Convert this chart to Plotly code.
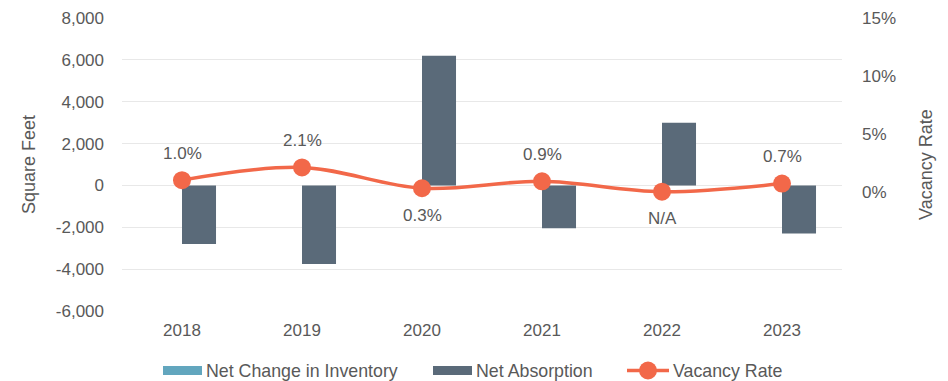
import plotly.graph_objects as go

years = ["2018", "2019", "2020", "2021", "2022", "2023"]
net_change_inventory = [0, 0, 0, 0, 0, 0]
net_absorption = [-2800, -3750, 6200, -2050, 3000, -2300]
vacancy_rate = [1.0, 2.1, 0.3, 0.9, 0.0, 0.7]
vacancy_labels = ["1.0%", "2.1%", "0.3%", "0.9%", "N/A", "0.7%"]
label_above = [True, True, False, True, False, True]

left_ticks = [-6000, -4000, -2000, 0, 2000, 4000, 6000, 8000]
left_tick_text = ["-6,000", "-4,000", "-2,000", "0", "2,000", "4,000", "6,000", "8,000"]
right_ticks = [0, 5, 10, 15]
right_tick_text = ["0%", "5%", "10%", "15%"]

FONT = "Liberation Sans, Arial, sans-serif"
GREY = "#595959"
C_INV = "#62A6BE"
C_ABS = "#5A6A79"
C_VAC = "#F26849"
TICK_SIZE = 17
TITLE_SIZE = 18
LEGEND_SIZE = 17.8

# plot-area geometry in pixels (used for the hand-built legend row)
PL, PW, PT, PH = 122, 720, 18, 293


def px_x(x):
    return (x - PL) / PW


def px_y(y):
    return 1 - (y - PT) / PH


fig = go.Figure()
fig.add_trace(go.Bar(
    x=years, y=net_change_inventory, name="Net Change in Inventory",
    marker_color=C_INV, marker_line_width=0, showlegend=False,
))
fig.add_trace(go.Bar(
    x=years, y=net_absorption, name="Net Absorption",
    marker_color=C_ABS, marker_line_width=0, showlegend=False,
))
fig.add_trace(go.Scatter(
    x=years, y=vacancy_rate, name="Vacancy Rate", yaxis="y2",
    mode="lines+markers",
    line=dict(color=C_VAC, width=3.5, shape="spline", smoothing=1),
    marker=dict(color=C_VAC, size=18),
    cliponaxis=False, showlegend=False,
))

# value labels on the vacancy points (category index on the x axis)
for i, (v, txt, above) in enumerate(zip(vacancy_rate, vacancy_labels, label_above)):
    fig.add_annotation(
        x=i, xref="x", y=v, yref="y2", text=txt, showarrow=False,
        yshift=27 if above else -27,
        font=dict(family=FONT, size=TICK_SIZE, color=GREY),
    )

# legend row drawn beneath the plot
LEG_Y = 370.5
legend_items = [
    ("Net Change in Inventory", "bar", C_INV, 163, 202),
    ("Net Absorption", "bar", C_ABS, 433, 472),
    ("Vacancy Rate", "line", C_VAC, 627, 669),
]
for label, kind, color, x0, x1 in legend_items:
    if kind == "bar":
        fig.add_shape(type="rect", xref="paper", yref="paper",
                      x0=px_x(x0), x1=px_x(x1),
                      y0=px_y(LEG_Y + 4.5), y1=px_y(LEG_Y - 4.5),
                      fillcolor=color, line_width=0)
    else:
        fig.add_shape(type="line", xref="paper", yref="paper",
                      x0=px_x(x0), x1=px_x(x1),
                      y0=px_y(LEG_Y), y1=px_y(LEG_Y),
                      line=dict(color=color, width=3.5))
        cx = (x0 + x1) / 2
        fig.add_shape(type="circle", xref="paper", yref="paper",
                      x0=px_x(cx - 9), x1=px_x(cx + 9),
                      y0=px_y(LEG_Y + 9), y1=px_y(LEG_Y - 9),
                      fillcolor=color, line_width=0)
    fig.add_annotation(
        xref="paper", yref="paper", x=px_x(x1 + 2), y=px_y(LEG_Y),
        xanchor="left", yanchor="middle", text=label, showarrow=False,
        font=dict(family=FONT, size=LEGEND_SIZE, color=GREY),
    )

fig.update_layout(
    width=948, height=381,
    margin=dict(l=PL, r=948 - PL - PW, t=PT, b=381 - PT - PH, autoexpand=False),
    paper_bgcolor="white", plot_bgcolor="white",
    font=dict(family=FONT, size=TICK_SIZE, color=GREY),
    barmode="group", bargap=0.433, bargroupgap=0,
    showlegend=False,
    xaxis=dict(type="category", range=[-0.5, 5.5],
               showgrid=False, zeroline=False, showline=False,
               ticks="", ticklabelstandoff=7,
               tickfont=dict(size=TICK_SIZE, color=GREY)),
    yaxis=dict(range=[-6000, 8000], tickvals=left_ticks, ticktext=left_tick_text,
               showgrid=True, gridcolor="#E8E8E8",
               gridwidth=1, zeroline=False, showline=False,
               ticklabelstandoff=17,
               title=dict(text="Square Feet", standoff=15,
                          font=dict(size=TITLE_SIZE, color=GREY)),
               tickfont=dict(size=TICK_SIZE, color=GREY)),
    yaxis2=dict(overlaying="y", side="right", range=[-10.3, 15.0],
                tickvals=right_ticks, ticktext=right_tick_text, showgrid=False,
                zeroline=False, showline=False, ticklabelstandoff=19,
                title=dict(text="Vacancy Rate", standoff=24,
                           font=dict(size=TITLE_SIZE, color=GREY)),
                tickfont=dict(size=TICK_SIZE, color=GREY)),
)

fig.write_html("out.html")
